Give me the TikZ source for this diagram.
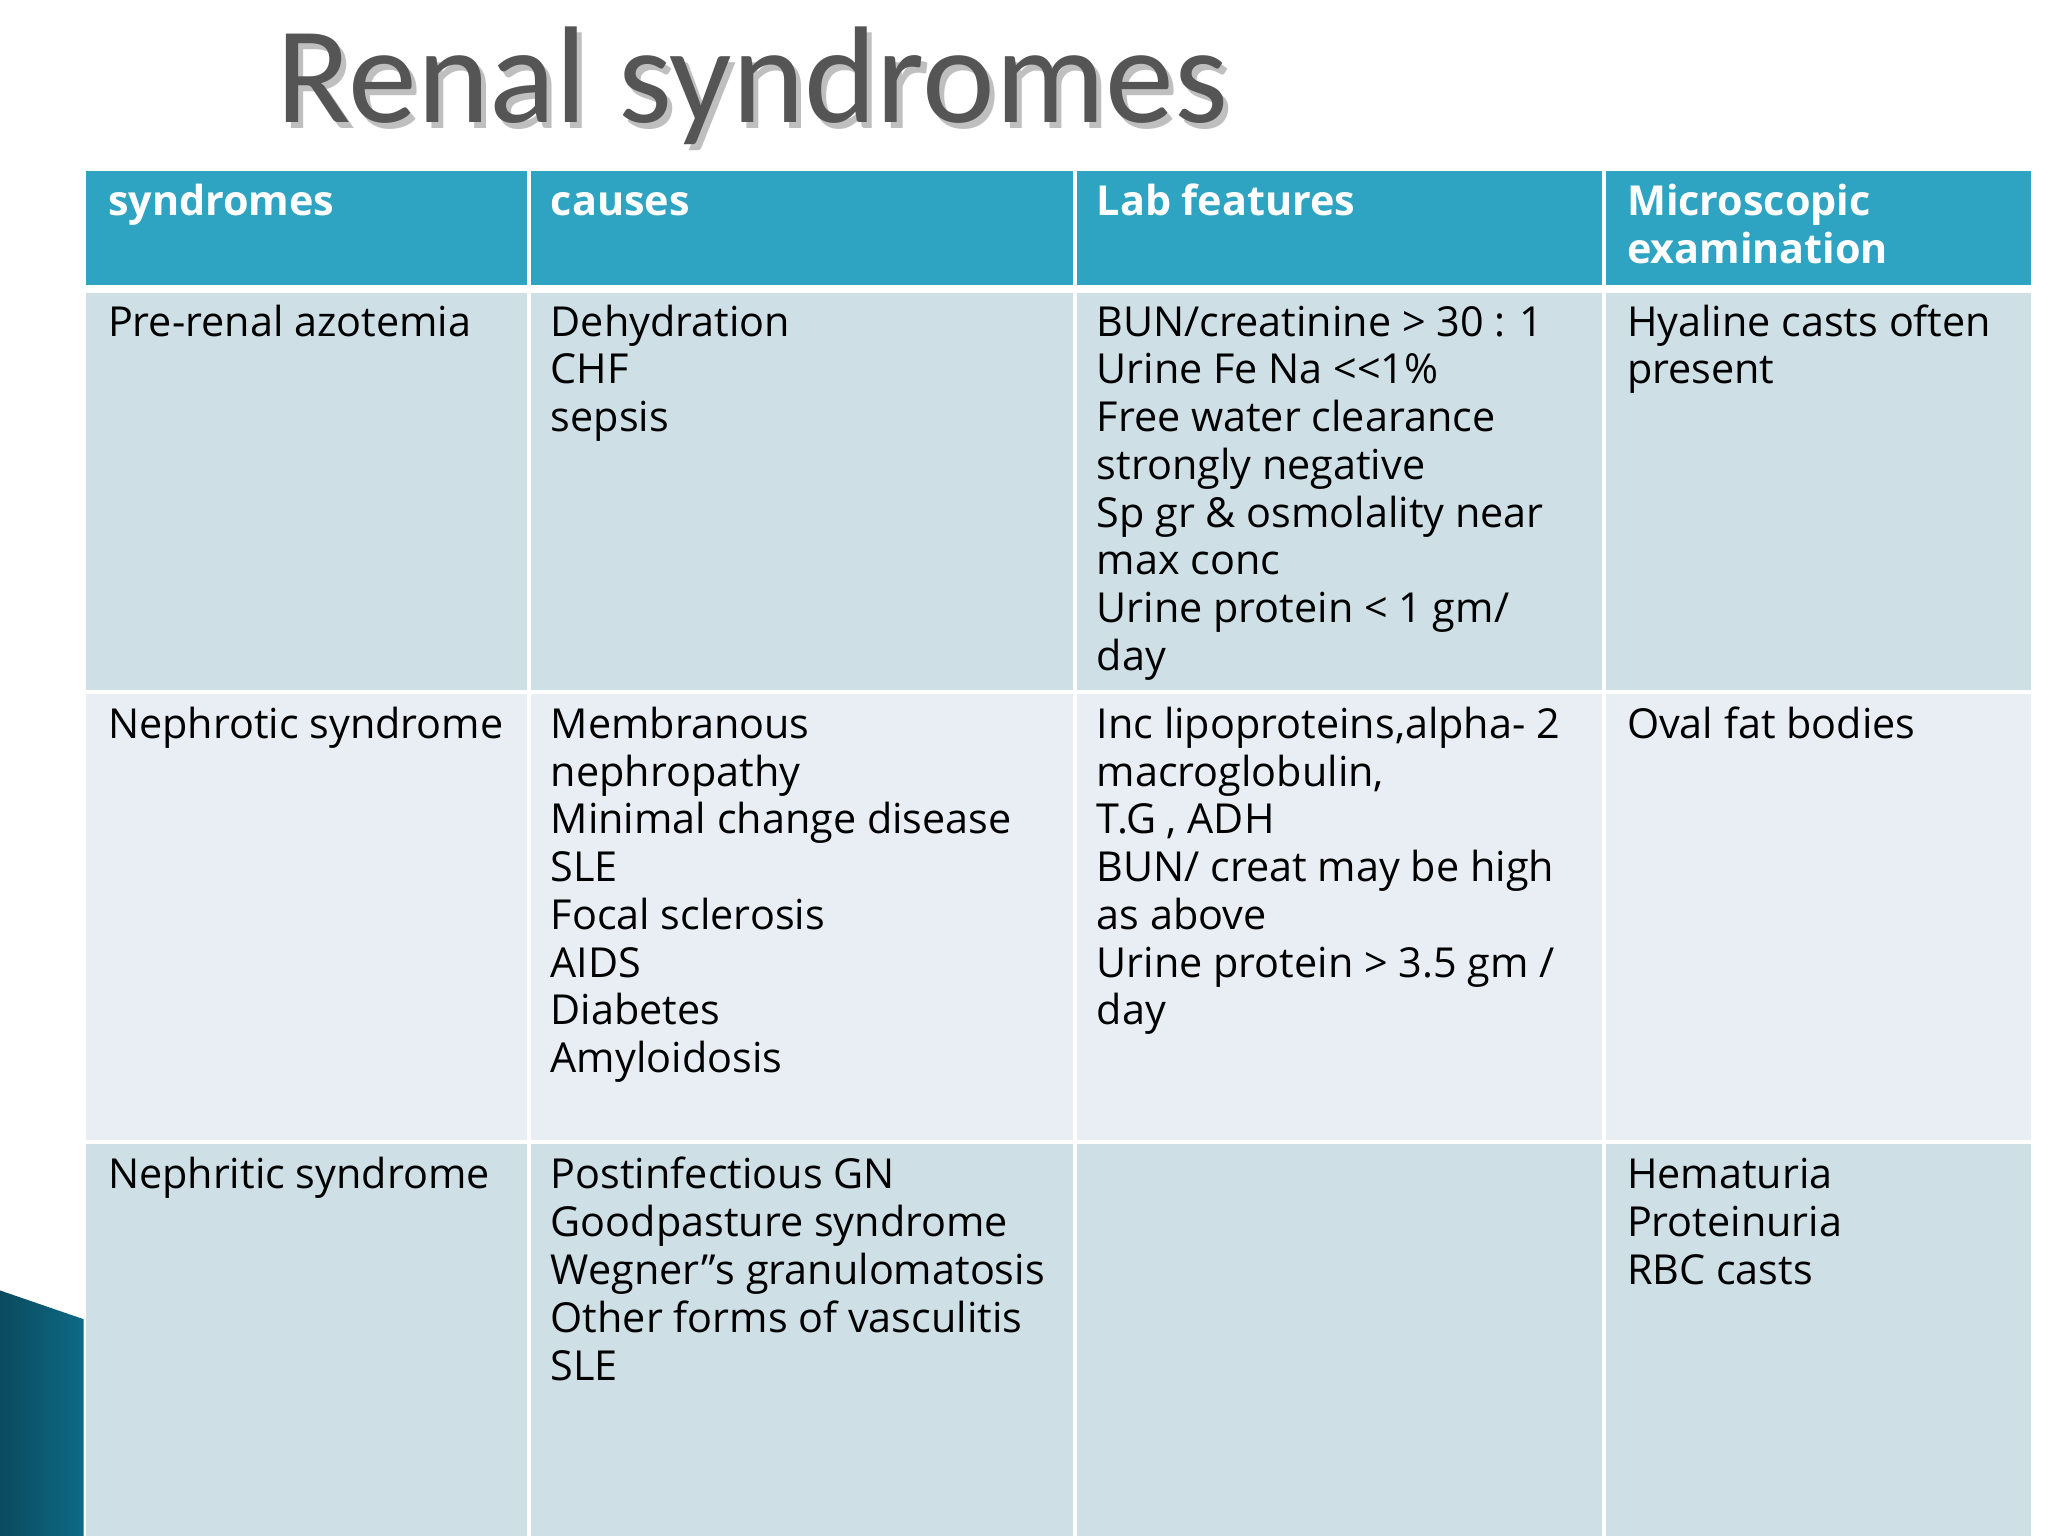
\documentclass[tikz,border=0pt]{standalone}
\usepackage{fontspec}
\setmainfont{Open Sans}
\newfontfamily\titlefont{Carlito}
\definecolor{hdr}{HTML}{2EA3C2}
\definecolor{rowa}{HTML}{CEDFE6}
\definecolor{rowb}{HTML}{E8EEF4}
\definecolor{ttl}{HTML}{555555}
\definecolor{deco}{HTML}{0E6A86}
\tikzset{cell/.style={anchor=north west,align=left,font=\fontsize{9pt}{10.4pt}\selectfont,inner sep=0pt},
hcell/.style={cell,text=white,font=\fontsize{9pt}{10.4pt}\selectfont\bfseries}}
\begin{document}
\begin{tikzpicture}[x=0.01cm,y=-0.01cm]
\useasboundingbox (0,0) rectangle (1568,1176);
\fill[white] (0,0) rectangle (1568,1176);
\shade[left color=deco!70!black,right color=deco] (0,988) -- (64,1010) -- (64,1176) -- (0,1176) -- cycle;
\node[anchor=west,text=black!25,font=\titlefont\fontsize{30pt}{32pt}\selectfont] at (203,70) {Renal syndromes};
\node[anchor=west,text=ttl,font=\titlefont\fontsize{30pt}{32pt}\selectfont] (title) at (199,66) {Renal syndromes};
% header
\fill[hdr] (66,131) rectangle (1555,218);
\fill[rowa] (66,224) rectangle (1555,528);
\fill[rowb] (66,531) rectangle (1555,873);
\fill[rowa] (66,876) rectangle (1555,1176);
\foreach \x in {405,823,1228} \fill[white] (\x-1.5,131) rectangle (\x+1.5,1176);
\node[hcell] (h1) at (82,139) {\strut syndromes};
\node[hcell] (h2) at (421,139) {\strut causes};
\node[hcell] (h3) at (839,139) {\strut Lab features};
\node[hcell] (h4) at (1245,139) {\strut Microscopic\\examination};
\node[cell] (a1) at (82,231) {\strut Pre-renal azotemia};
\node[cell] (a2) at (421,231) {\strut Dehydration\\CHF\\sepsis};
\node[cell] (a3) at (839,231) {\strut BUN/creatinine > 30 : 1\\Urine Fe Na {<}{<}1\%\\Free water clearance\\strongly negative\\Sp gr \& osmolality near\\max conc\\Urine protein < 1 gm/\\day};
\node[cell] (a4) at (1245,231) {\strut Hyaline casts often\\present};
\node[cell] (b1) at (82,539) {\strut Nephrotic syndrome};
\node[cell] (b2) at (421,539) {\strut Membranous\\nephropathy\\Minimal change disease\\SLE\\Focal sclerosis\\AIDS\\Diabetes\\Amyloidosis};
\node[cell] (b3) at (839,539) {\strut Inc lipoproteins,alpha- 2\\macroglobulin,\\T.G , ADH\\BUN/ creat may be high\\as above\\Urine protein > 3.5 gm /\\day};
\node[cell] (b4) at (1245,539) {\strut Oval fat bodies};
\node[cell] (c1) at (82,884) {\strut Nephritic syndrome};
\node[cell] (c2) at (421,884) {\strut Postinfectious GN\\Goodpasture syndrome\\Wegner”s granulomatosis\\Other forms of vasculitis\\SLE};
\node[cell] (c4) at (1245,884) {\strut Hematuria\\Proteinuria\\RBC casts};
\end{tikzpicture}
\end{document}
